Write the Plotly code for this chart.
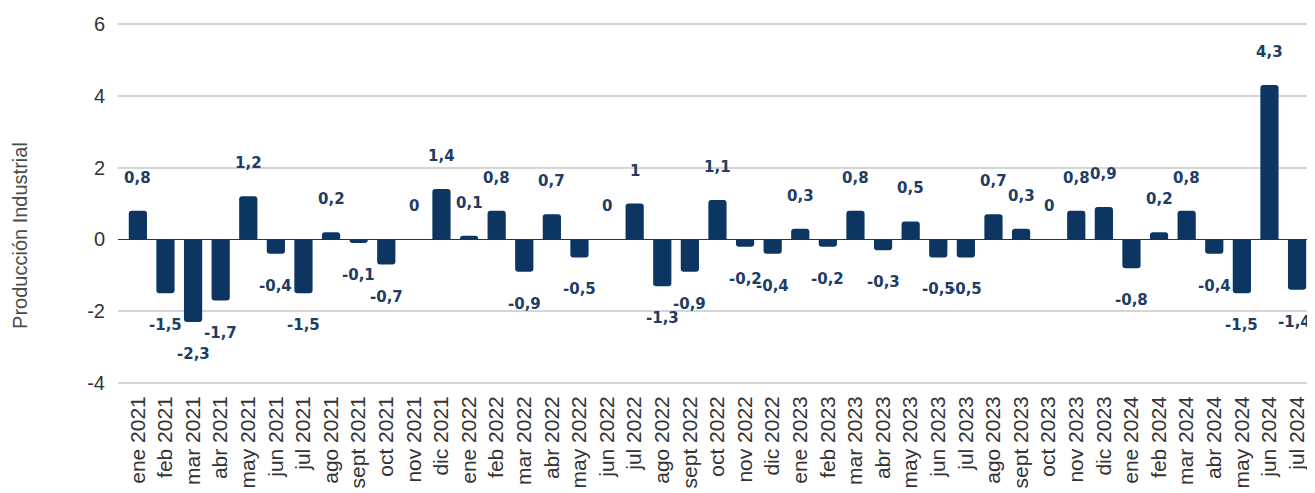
import plotly.graph_objects as go

months = ["ene", "feb", "mar", "abr", "may", "jun", "jul", "ago", "sept", "oct", "nov", "dic"]
categories = (
    [f"{m} 2021" for m in months]
    + [f"{m} 2022" for m in months]
    + [f"{m} 2023" for m in months]
    + [f"{m} 2024" for m in months[:7]]
)

values = [
    0.8, -1.5, -2.3, -1.7, 1.2, -0.4, -1.5, 0.2, -0.1, -0.7, 0, 1.4,
    0.1, 0.8, -0.9, 0.7, -0.5, 0, 1, -1.3, -0.9, 1.1, -0.2, -0.4,
    0.3, -0.2, 0.8, -0.3, 0.5, -0.5, -0.5, 0.7, 0.3, 0, 0.8, 0.9,
    -0.8, 0.2, 0.8, -0.4, -1.5, 4.3, -1.4,
]

y_ticks = [-4, -2, 0, 2, 4, 6]
y_title = "Producción Industrial"

BAR = "#0d3562"
LBL = "#1d3d65"

def fmt(v):
    return f"{v:g}".replace(".", ",")

fig = go.Figure()
fig.add_trace(go.Bar(
    x=categories, y=values,
    marker=dict(color=BAR, cornerradius=3, line=dict(width=0)),
    width=0.66,
    hoverinfo="x+y",
))

annotations = []
n = len(values)
for i, (c, v) in enumerate(zip(categories, values)):
    annotations.append(dict(
        x=c, y=v, xref="x", yref="y",
        text=fmt(v), showarrow=False,
        yanchor="middle", xanchor="center",
        xshift=-3 if i == n - 1 else 0,
        yshift=33 if v >= 0 else -32,
        font=dict(family="DejaVu Sans, Arial, sans-serif", size=15, color=LBL, weight="bold"),
    ))

annotations.append(dict(
    x=-0.082, y=0.413, xref="paper", yref="paper",
    text=y_title, showarrow=False, textangle=-90,
    xanchor="center", yanchor="middle",
    font=dict(family="Liberation Sans, Arial, sans-serif", size=20, color="#4a4a4a"),
))

fig.update_layout(
    width=1307, height=485,
    margin=dict(l=110, r=0, t=14, b=108),
    paper_bgcolor="white", plot_bgcolor="white",
    showlegend=False,
    annotations=annotations,
    font=dict(family="Liberation Sans, Arial, sans-serif", color="#333333"),
)
fig.update_xaxes(
    type="category",
    range=[-0.72, 42.65],
    tickangle=-90,
    tickfont=dict(size=21, color="#333333"),
    showgrid=False, showline=False, ticks="",
    ticklabelstandoff=6,
)
fig.update_yaxes(
    range=[-4.05, 6.05],
    tickvals=y_ticks,
    ticktext=[str(t) for t in y_ticks],
    tickfont=dict(size=20, color="#333333"),
    showgrid=True, gridcolor="#d6d6d6", gridwidth=2,
    zeroline=True, zerolinecolor="#333333", zerolinewidth=1,
    showline=False, ticks="",
    ticklabelstandoff=12,
)

fig.write_html("out.html")
